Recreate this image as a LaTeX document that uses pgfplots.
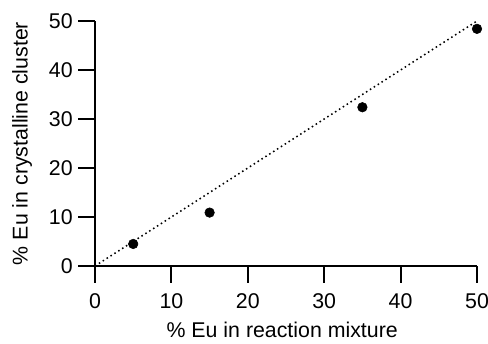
\documentclass[border=0pt]{standalone}
\usepackage{pgfplots}
\pgfplotsset{compat=1.18}
\usepackage{fontspec}
\setmainfont{Liberation Sans}
\begin{document}
\begin{tikzpicture}
\path[use as bounding box] (-71.25pt,-57.75pt) rectangle (294.75pt,199.5pt);
\begin{axis}[
  at={(0pt,0pt)}, anchor=south west,
  scale only axis,
  width=286.5pt, height=183.75pt,
  xmin=0, xmax=50, ymin=0, ymax=50,
  axis lines=left,
  axis line style={line width=1.5pt, -},
  tick style={line width=1.5pt, black},
  tick align=outside,
  major tick length=12.5pt,
  xtick={0,10,20,30,40,50},
  ytick={0,10,20,30,40,50},
  tick label style={font=\fontsize{16}{19}\selectfont},
  label style={font=\fontsize{16}{19}\selectfont},
  /pgf/number format/assume math mode=true,
  xlabel={\% Eu in reaction mixture},
  ylabel={\% Eu in crystalline cluster},
  xlabel style={at={(axis description cs:0.49,-0.29)}, anchor=base},
  ylabel style={at={(axis description cs:-0.1767,0.5)}, anchor=base, rotate=0},
  xticklabel style={yshift=-4.5pt},
  yticklabel style={xshift=-0.75pt},
  clip=false,
]
\addplot[black, line width=1.15pt, dash pattern=on 1.15pt off 2.3pt] coordinates {(0,0) (50,50)};
\addplot[only marks, mark=*, mark size=3.6pt, black] coordinates {
(5,4.5) (15,10.9) (35,32.4) (50,48.4)
};
\end{axis}
\end{tikzpicture}
\end{document}
